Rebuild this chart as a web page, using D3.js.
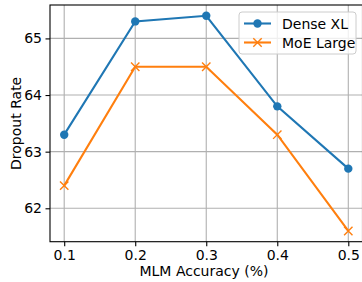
<!DOCTYPE html>
<html><head><meta charset="utf-8">
<script src="https://cdn.jsdelivr.net/npm/d3@7"></script>
<style>body{margin:0;background:#fff}svg{display:block}text{font-family:"DejaVu Sans",sans-serif}</style>
</head><body><svg id="c" width="362" height="282"></svg>
<script>
const xValues = [0.1, 0.2, 0.3, 0.4, 0.5];
const denseXL = [63.3, 65.3, 65.4, 63.8, 62.7];
const moeLarge = [62.4, 64.5, 64.5, 63.3, 61.6];
const yTicks = [62, 63, 64, 65];
const xTicks = [0.1, 0.2, 0.3, 0.4, 0.5];
const seriesNames = ["Dense XL", "MoE Large"];

const svg = d3.select("#c");
const L = 50, R = 362.5, T = 5, B = 241.7;
const x = d3.scaleLinear().domain([0.08, 0.52]).range([L, R]);
const y = d3.scaleLinear().domain([61.41, 65.59]).range([B, T]);
const fs = 14;

// grid
svg.append("g").selectAll("line").data(xTicks).join("line")
  .attr("x1", d => x(d)).attr("x2", d => x(d)).attr("y1", T).attr("y2", B)
  .attr("stroke", "#b0b0b0").attr("stroke-width", 1.1);
svg.append("g").selectAll("line").data(yTicks).join("line")
  .attr("x1", L).attr("x2", R).attr("y1", d => y(d)).attr("y2", d => y(d))
  .attr("stroke", "#b0b0b0").attr("stroke-width", 1.1);

// axes
const xAxis = d3.axisBottom(x).tickValues(xTicks).tickFormat(d3.format(".1f")).tickSize(4.5).tickPadding(4);
const yAxis = d3.axisLeft(y).tickValues(yTicks).tickFormat(d3.format("d")).tickSize(4.5).tickPadding(3.5);
const gx = svg.append("g").attr("transform", `translate(0,${B})`).call(xAxis);
const gy = svg.append("g").attr("transform", `translate(${L},0)`).call(yAxis);
[gx, gy].forEach(g => {
  g.select(".domain").remove();
  g.selectAll("line").attr("stroke", "#000").attr("stroke-width", 1.1);
  g.selectAll("text").attr("font-size", fs).attr("fill", "#000").style("font-family", "DejaVu Sans");
});

// spines
svg.append("rect").attr("x", L).attr("y", T).attr("width", R - L).attr("height", B - T)
  .attr("fill", "none").attr("stroke", "#000").attr("stroke-width", 1.1);

const colors = ["#1f77b4", "#ff7f0e"];
const data = [denseXL, moeLarge];
const line = d3.line().x((d, i) => x(xValues[i])).y(d => y(d));

data.forEach((s, k) => {
  svg.append("path").attr("d", line(s)).attr("fill", "none")
    .attr("stroke", colors[k]).attr("stroke-width", 2.1);
  if (k === 0) {
    svg.append("g").selectAll("circle").data(s).join("circle")
      .attr("cx", (d, i) => x(xValues[i])).attr("cy", d => y(d)).attr("r", 4.2).attr("fill", colors[k]);
  } else {
    const m = 4.2;
    svg.append("g").selectAll("path").data(s).join("path")
      .attr("d", (d, i) => { const cx = x(xValues[i]), cy = y(d);
        return `M${cx-m},${cy-m}L${cx+m},${cy+m}M${cx-m},${cy+m}L${cx+m},${cy-m}`; })
      .attr("stroke", colors[k]).attr("stroke-width", 1.4).attr("fill", "none");
  }
});

// axis labels
svg.append("text").attr("x", (L + 362) / 2 - 2).attr("y", 276).attr("text-anchor", "middle")
  .attr("font-size", fs).text("MLM Accuracy (%)");
svg.append("text").attr("transform", `translate(21,${(T + B) / 2}) rotate(-90)`).attr("text-anchor", "middle")
  .attr("font-size", fs).text("Dropout Rate");

// legend
const lg = svg.append("g");
lg.append("rect").attr("x", 239).attr("y", 12).attr("width", 117).attr("height", 42).attr("rx", 3)
  .attr("fill", "#fff").attr("fill-opacity", 0.8).attr("stroke", "#cccccc").attr("stroke-width", 1);
seriesNames.forEach((n, k) => {
  const ly = 23.5 + k * 19;
  lg.append("line").attr("x1", 244).attr("x2", 271).attr("y1", ly).attr("y2", ly)
    .attr("stroke", colors[k]).attr("stroke-width", 2.1);
  if (k === 0) lg.append("circle").attr("cx", 257.5).attr("cy", ly).attr("r", 4.2).attr("fill", colors[k]);
  else { const m = 4.2, cx = 257.5;
    lg.append("path").attr("d", `M${cx-m},${ly-m}L${cx+m},${ly+m}M${cx-m},${ly+m}L${cx+m},${ly-m}`)
      .attr("stroke", colors[k]).attr("stroke-width", 1.4); }
  lg.append("text").attr("x", 282).attr("y", ly + 5).attr("font-size", fs).text(n);
});
</script></body></html>
